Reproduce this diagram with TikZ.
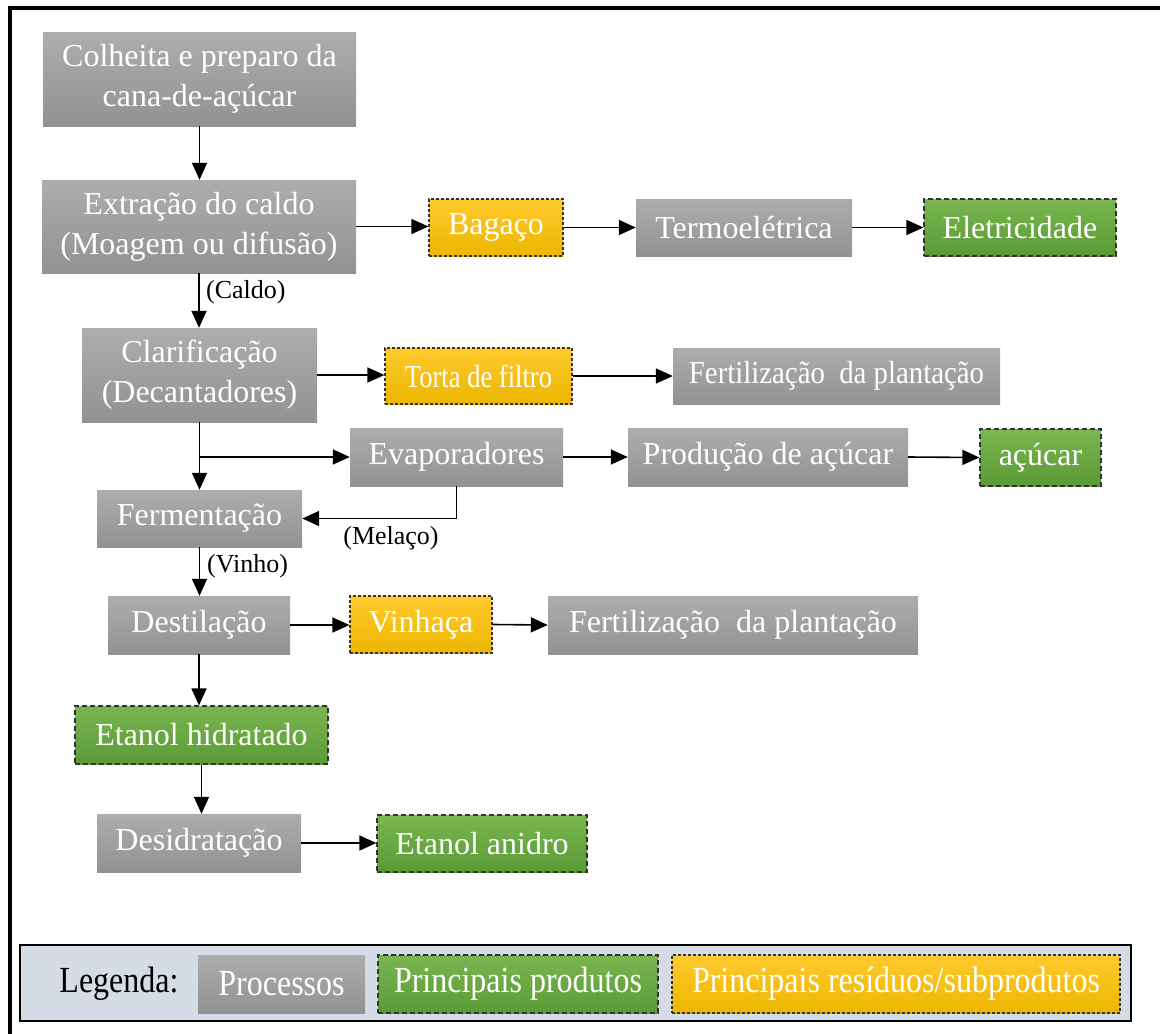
\documentclass[tikz,border=0pt]{standalone}
\usepackage{fontspec}
\setmainfont{Liberation Serif}
\usetikzlibrary{arrows.meta}
\definecolor{gtop}{HTML}{ADADAD}
\definecolor{gbot}{HTML}{929292}
\definecolor{otop}{HTML}{FFCA2E}
\definecolor{obot}{HTML}{ECB600}
\definecolor{vtop}{HTML}{7AB651}
\definecolor{vbot}{HTML}{5A9A34}
\definecolor{legfill}{HTML}{D6DCE5}
\tikzset{
  box/.style={inner sep=0pt, align=center, text=white, font=\fontsize{32}{40}\selectfont},
  proc/.style={box, top color=gtop, bottom color=gbot},
  prod/.style={box, top color=vtop, bottom color=vbot, draw=black!80, line width=1.2pt, dash pattern=on 5pt off 3pt},
  resid/.style={box, top color=otop, bottom color=obot, draw=black!80, line width=1.2pt, dash pattern=on 3pt off 2pt},
  arr/.style={line width=1.6pt, -{Triangle[length=17pt,width=15pt]}},
  lbl/.style={font=\fontsize{26}{30}\selectfont, inner sep=0pt, text=black},
  legtxt/.style={font=\fontsize{32}{40}\selectfont},
}
\begin{document}
\begin{tikzpicture}[x=1pt,y=-1pt]
\useasboundingbox (0,0) rectangle (1160,1034);
\fill[white] (0,0) rectangle (1160,1034);
% frame
\draw[line width=4pt] (10,1034) -- (10,8) -- (1160,8);

% nodes
\node[proc, minimum width=313pt, minimum height=94pt] (colheita) at (199.5,79) {Colheita e preparo da\\cana-de-açúcar};
\node[proc, minimum width=314pt, minimum height=93pt] (extracao) at (199,226.5) {Extração do caldo\\(Moagem ou difusão)};
\node[resid, minimum width=134pt, minimum height=57pt] (bagaco) at (496,227.5) {Bagaço};
\node[proc, minimum width=216pt, minimum height=57pt] (termo) at (744,227.5) {Termoelétrica};
\node[prod, minimum width=192pt, minimum height=57pt] (eletric) at (1020,227.5) {Eletricidade};

\node[proc, minimum width=235pt, minimum height=94pt] (clarif) at (199.5,375) {Clarificação\\(Decantadores)};
\node[resid, minimum width=187pt, minimum height=56pt] (torta) at (478.5,376) {\scalebox{0.83}[1]{Torta de filtro}};
\node[proc, minimum width=327pt, minimum height=56pt] (fert1) at (836.5,376) {\scalebox{0.9}[1]{Fertilização\ \ da plantação}};

\node[proc, minimum width=213pt, minimum height=58pt] (evap) at (456.5,457) {Evaporadores};
\node[proc, minimum width=280pt, minimum height=58pt] (prodac) at (768,457) {Produção de açúcar};
\node[prod, minimum width=121pt, minimum height=57pt] (acucar) at (1040.5,457.5) {açúcar};

\node[proc, minimum width=205pt, minimum height=57pt] (ferm) at (199.5,518.5) {Fermentação};

\node[proc, minimum width=182pt, minimum height=58pt] (destil) at (199,625) {Destilação};
\node[resid, minimum width=142pt, minimum height=57pt] (vinhaca) at (421,624.5) {Vinhaça};
\node[proc, minimum width=370pt, minimum height=58pt] (fert2) at (733,625) {Fertilização\ \ da plantação};

\node[prod, minimum width=253pt, minimum height=58pt] (etahid) at (201.5,735) {Etanol hidratado};
\node[proc, minimum width=204pt, minimum height=58pt] (desid) at (199,843) {Desidratação};
\node[prod, minimum width=210pt, minimum height=57pt] (etanid) at (482,843.5) {Etanol anidro};

% connectors
\draw[arr] (colheita.south) -- (colheita.south |- extracao.north);
\draw[arr] (extracao.east) -- (extracao.east -| bagaco.west);
\draw[arr] (bagaco.east) -- (termo.west);
\draw[arr] (termo.east) -- (eletric.west);
\draw[arr] (extracao.south) -- (extracao.south |- clarif.north);
\node[lbl, anchor=west] (caldo) at (206,292) {(Caldo)};
\draw[arr] (clarif.east) -- (clarif.east -| torta.west);
\draw[arr] (torta.east) -- (fert1.west);
\draw[arr] (clarif.south) -- (clarif.south |- ferm.north);
\coordinate (branch) at (clarif.south |- evap.west);
\draw[arr] (branch) -- (evap.west);
\draw[arr] (evap.east) -- (prodac.west);
\draw[arr] (prodac.east) -- (acucar.west);
\draw[arr] (evap.south) |- (ferm.east);
\node[lbl] (melaco) at (391,538) {(Melaço)};
\draw[arr] (ferm.south) -- (ferm.south |- destil.north);
\node[lbl, anchor=west] (vinho) at (207,566) {(Vinho)};
\draw[arr] (destil.east) -- (destil.east -| vinhaca.west);
\draw[arr] (vinhaca.east) -- (fert2.west);
\draw[arr] (destil.south) -- (destil.south |- etahid.north);
\draw[arr] (etahid.south) -- (etahid.south |- desid.north);
\draw[arr] (desid.east) -- (desid.east -| etanid.west);

% legend
\node[draw=black, line width=2pt, fill=legfill, minimum width=1111pt, minimum height=76pt, inner sep=0pt] (legbox) at (575.5,983) {};
\node[legtxt, text=black, inner sep=0pt] (legenda) at (119,984) {\scalebox{1}[1.15]{Legenda:}};
\node[proc, legtxt, minimum width=167pt, minimum height=58pt] (legproc) at (281.5,984) {\scalebox{1}[1.15]{Processos}};
\node[prod, legtxt, minimum width=280pt, minimum height=58pt] (legprod) at (518,984) {\scalebox{1}[1.15]{Principais\ produtos}};
\node[resid, legtxt, minimum width=448pt, minimum height=58pt] (legres) at (896,984) {\scalebox{1}[1.15]{Principais\ resíduos/subprodutos}};
\end{tikzpicture}
\end{document}
